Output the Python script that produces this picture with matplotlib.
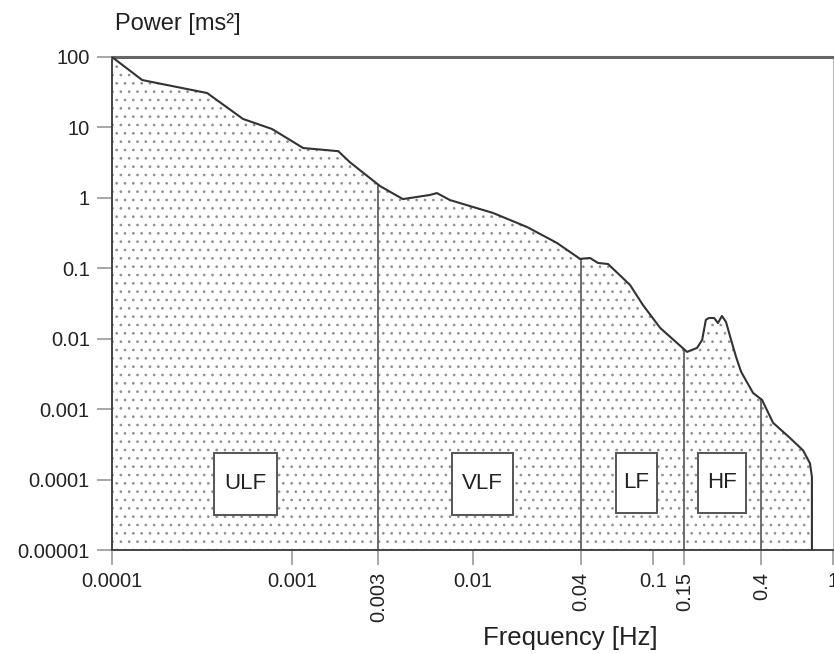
import numpy as np
import matplotlib
matplotlib.use("Agg")
import matplotlib.pyplot as plt
from matplotlib.patches import Rectangle

plt.rcParams["font.family"] = ["Liberation Sans", "DejaVu Sans"]
plt.rcParams["hatch.color"] = "#8f8f8f"
plt.rcParams["hatch.linewidth"] = 0.7

# HRV power spectrum
freq = [1.0e-4, 1.47e-4, 2.02e-4, 3.37e-4, 5.33e-4, 7.72e-4, 1.15e-3, 1.80e-3,
        2.09e-3, 3.07e-3, 4.11e-3, 5.81e-3, 6.35e-3, 7.5e-3, 1.30e-2, 2.01e-2,
        2.94e-2, 3.95e-2, 4.49e-2, 4.97e-2, 5.65e-2, 7.48e-2, 8.83e-2, 0.110,
        0.155, 0.176, 0.188, 0.197, 0.205, 0.219, 0.230, 0.242, 0.255, 0.272,
        0.290, 0.309, 0.360, 0.404, 0.465, 0.577, 0.682, 0.745, 0.764, 0.764]
power = [100, 47.1, 40.0, 30.8, 13.2, 9.5, 5.1, 4.6,
         3.2, 1.47, 0.96, 1.10, 1.17, 0.93, 0.61, 0.385,
         0.229, 0.136, 0.140, 0.119, 0.115, 0.058, 0.030, 0.0142,
         0.0065, 0.0074, 0.0096, 0.0185, 0.0197, 0.0197, 0.0167, 0.021, 0.0173, 0.0096,
         0.0055, 0.0034, 0.0017, 0.00135, 0.00064, 0.00039, 0.00026, 0.00017, 0.000109, 1e-5]

band_edges = [0.003, 0.04, 0.15, 0.4]
band_names = ["ULF", "VLF", "LF", "HF"]
x_major = [0.0001, 0.001, 0.01, 0.1, 1]
x_major_labels = ["0.0001", "0.001", "0.01", "0.1", "1"]
y_ticks = [1e-5, 1e-4, 1e-3, 1e-2, 1e-1, 1, 10, 100]
y_labels = ["0.00001", "0.0001", "0.001", "0.01", "0.1", "1", "10", "100"]

fig = plt.figure(figsize=(8.34, 6.54), dpi=100)
ax = fig.add_axes([112 / 834, 1 - 550 / 654, 721 / 834, 493 / 654])
ax.set_xscale("log")
ax.set_yscale("log")
ax.set_xlim(1e-4, 1)
ax.set_ylim(1e-5, 100)

# dotted fill under the curve
ax.fill_between(freq, 1e-5, power, facecolor="white", hatch="..", edgecolor="#8f8f8f",
                linewidth=0, zorder=1)
ax.plot(freq, power, color="#333333", lw=1.5, zorder=3)

# band boundaries up to the curve
lf, lp = np.log10(freq[:-1]), np.log10(power[:-1])
for edge in band_edges:
    top = 10 ** np.interp(np.log10(edge), lf, lp)
    ax.plot([edge, edge], [1e-5, top], color="#555555", lw=1.2, zorder=2)

# band labels in boxes (axes fraction)
boxes = [(0.1415, 0.071, 0.0874, 0.126), (0.4716, 0.071, 0.0846, 0.126),
         (0.699, 0.075, 0.0569, 0.122), (0.8128, 0.075, 0.0666, 0.122)]
for name, (x0, y0, w, h) in zip(band_names, boxes):
    ax.add_patch(Rectangle((x0, y0), w, h, transform=ax.transAxes, facecolor="white",
                           edgecolor="#555555", lw=1.4, zorder=4))
    ax.text(x0 + w / 2, y0 + h / 2, name, transform=ax.transAxes, ha="center",
            va="center", fontsize=16, color="#222222", zorder=5)

# ticks
ax.set_yticks(y_ticks)
ax.set_yticklabels(y_labels, fontsize=14.5, color="#222222")
ax.yaxis.set_minor_locator(matplotlib.ticker.NullLocator())
ax.set_xticks(x_major + band_edges)
ax.set_xticklabels(x_major_labels + [str(e) for e in band_edges], fontsize=14.5, color="#222222")
for lbl, val in zip(ax.get_xticklabels(), x_major + band_edges):
    if val in band_edges:
        lbl.set_rotation(90)
        lbl.set_va("top")
ax.xaxis.set_minor_locator(matplotlib.ticker.NullLocator())
ax.tick_params(axis="both", direction="out", length=11, width=1.2, color="#999999", pad=5)

for side in ["left", "bottom"]:
    ax.spines[side].set_color("#444444")
    ax.spines[side].set_linewidth(1.4)
ax.spines["top"].set_color("#666666")
ax.spines["top"].set_linewidth(2.2)
ax.spines["right"].set_color("#bbbbbb")
ax.spines["right"].set_linewidth(0.8)

fig.text(115 / 834, 1 - 24 / 654, "Power [ms²]", fontsize=17, color="#222222",
         ha="left", va="center")
fig.text(570 / 834, 1 - 638 / 654, "Frequency [Hz]", fontsize=18.5, color="#222222",
         ha="center", va="center")

fig.savefig("out.png", dpi=100, facecolor="white")
